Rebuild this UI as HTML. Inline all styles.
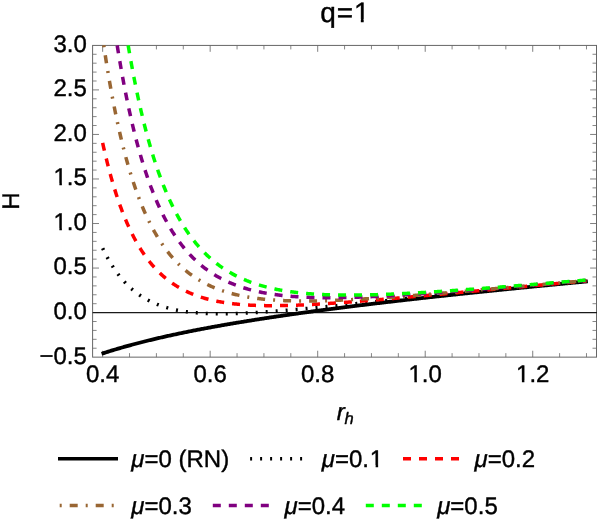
<!DOCTYPE html>
<html><head><meta charset="utf-8"><title>q=1</title>
<style>
html,body{margin:0;padding:0;background:#fff;}
body{width:597px;height:520px;overflow:hidden;font-family:"Liberation Sans",sans-serif;}
svg{display:block;}
</style></head><body>
<svg width="597" height="520" viewBox="0 0 597 520" style="will-change:transform">
<rect x="0" y="0" width="597" height="520" fill="#ffffff"/>
<path d="M102.65,357.14 v-6.40 M102.65,45.42 v6.40 M210.17,357.14 v-6.40 M210.17,45.42 v6.40 M317.69,357.14 v-6.40 M317.69,45.42 v6.40 M425.21,357.14 v-6.40 M425.21,45.42 v6.40 M532.73,357.14 v-6.40 M532.73,45.42 v6.40 M92.60,268.06 h6.40 M596.50,268.06 h-6.40 M92.60,223.52 h6.40 M596.50,223.52 h-6.40 M92.60,178.98 h6.40 M596.50,178.98 h-6.40 M92.60,134.44 h6.40 M596.50,134.44 h-6.40 M92.60,89.90 h6.40 M596.50,89.90 h-6.40" stroke="#606060" stroke-width="0.8" fill="none"/>
<path d="M129.53,357.14 v-4.00 M129.53,45.42 v4.00 M156.41,357.14 v-4.00 M156.41,45.42 v4.00 M183.29,357.14 v-4.00 M183.29,45.42 v4.00 M237.05,357.14 v-4.00 M237.05,45.42 v4.00 M263.93,357.14 v-4.00 M263.93,45.42 v4.00 M290.81,357.14 v-4.00 M290.81,45.42 v4.00 M344.57,357.14 v-4.00 M344.57,45.42 v4.00 M371.45,357.14 v-4.00 M371.45,45.42 v4.00 M398.33,357.14 v-4.00 M398.33,45.42 v4.00 M452.09,357.14 v-4.00 M452.09,45.42 v4.00 M478.97,357.14 v-4.00 M478.97,45.42 v4.00 M505.85,357.14 v-4.00 M505.85,45.42 v4.00 M559.61,357.14 v-4.00 M559.61,45.42 v4.00 M586.49,357.14 v-4.00 M586.49,45.42 v4.00 M92.60,348.23 h4.00 M596.50,348.23 h-4.00 M92.60,339.32 h4.00 M596.50,339.32 h-4.00 M92.60,330.42 h4.00 M596.50,330.42 h-4.00 M92.60,321.51 h4.00 M596.50,321.51 h-4.00 M92.60,303.69 h4.00 M596.50,303.69 h-4.00 M92.60,294.78 h4.00 M596.50,294.78 h-4.00 M92.60,285.88 h4.00 M596.50,285.88 h-4.00 M92.60,276.97 h4.00 M596.50,276.97 h-4.00 M92.60,259.15 h4.00 M596.50,259.15 h-4.00 M92.60,250.24 h4.00 M596.50,250.24 h-4.00 M92.60,241.34 h4.00 M596.50,241.34 h-4.00 M92.60,232.43 h4.00 M596.50,232.43 h-4.00 M92.60,214.61 h4.00 M596.50,214.61 h-4.00 M92.60,205.70 h4.00 M596.50,205.70 h-4.00 M92.60,196.80 h4.00 M596.50,196.80 h-4.00 M92.60,187.89 h4.00 M596.50,187.89 h-4.00 M92.60,170.07 h4.00 M596.50,170.07 h-4.00 M92.60,161.16 h4.00 M596.50,161.16 h-4.00 M92.60,152.26 h4.00 M596.50,152.26 h-4.00 M92.60,143.35 h4.00 M596.50,143.35 h-4.00 M92.60,125.53 h4.00 M596.50,125.53 h-4.00 M92.60,116.62 h4.00 M596.50,116.62 h-4.00 M92.60,107.72 h4.00 M596.50,107.72 h-4.00 M92.60,98.81 h4.00 M596.50,98.81 h-4.00 M92.60,80.99 h4.00 M596.50,80.99 h-4.00 M92.60,72.08 h4.00 M596.50,72.08 h-4.00 M92.60,63.18 h4.00 M596.50,63.18 h-4.00 M92.60,54.27 h4.00 M596.50,54.27 h-4.00" stroke="#686868" stroke-width="0.8" fill="none"/>
<rect x="92.60" y="45.42" width="503.90" height="311.72" fill="none" stroke="#666666" stroke-width="1.0"/>
<path d="M92.60,312.60 H597" stroke="#1a1a1a" stroke-width="1.2" fill="none"/>
<g fill="none">
<path d="M101.57,353.78 L102.55,353.46 L103.52,353.14 L104.50,352.83 L105.47,352.51 L106.45,352.20 L107.42,351.89 L108.40,351.58 L109.37,351.28 L110.35,350.97 L111.32,350.67 L112.29,350.37 L113.27,350.08 L114.24,349.78 L115.22,349.49 L116.19,349.20 L117.17,348.91 L118.14,348.62 L119.12,348.33 L120.09,348.05 L121.06,347.77 L122.04,347.49 L123.01,347.21 L123.99,346.93 L124.96,346.65 L125.94,346.38 L126.91,346.11 L127.89,345.84 L128.86,345.57 L129.83,345.30 L130.81,345.04 L131.78,344.77 L132.76,344.51 L133.73,344.25 L134.71,343.99 L135.68,343.73 L136.66,343.48 L137.63,343.22 L138.60,342.97 L139.58,342.72 L140.55,342.47 L141.53,342.22 L142.50,341.97 L143.48,341.73 L144.45,341.48 L145.43,341.24 L146.40,341.00 L147.37,340.75 L148.35,340.52 L149.32,340.28 L150.30,340.04 L151.27,339.80 L152.25,339.57 L153.22,339.34 L154.20,339.10 L155.17,338.87 L156.14,338.64 L157.12,338.42 L158.09,338.19 L159.07,337.96 L160.04,337.74 L161.02,337.51 L161.99,337.29 L162.97,337.07 L163.94,336.85 L164.92,336.63 L165.89,336.41 L166.86,336.19 L167.84,335.98 L168.81,335.76 L169.79,335.55 L170.76,335.33 L171.74,335.12 L172.71,334.91 L173.69,334.70 L174.66,334.49 L175.63,334.28 L176.61,334.07 L177.58,333.87 L178.56,333.66 L179.53,333.46 L180.51,333.25 L181.48,333.05 L182.46,332.85 L183.43,332.65 L184.40,332.45 L185.38,332.25 L186.35,332.05 L187.33,331.85 L188.30,331.66 L189.28,331.46 L190.25,331.26 L191.23,331.07 L192.20,330.88 L193.17,330.68 L194.15,330.49 L195.12,330.30 L196.10,330.11 L197.07,329.92 L198.05,329.73 L199.02,329.55 L200.00,329.36 L200.97,329.17 L201.94,328.99 L202.92,328.80 L203.89,328.62 L204.87,328.43 L205.84,328.25 L206.82,328.07 L207.79,327.89 L208.77,327.71 L209.74,327.53 L210.72,327.35 L211.69,327.17 L212.66,326.99 L213.64,326.81 L214.61,326.64 L215.59,326.46 L216.56,326.28 L217.54,326.11 L218.51,325.94 L219.49,325.76 L220.46,325.59 L221.43,325.42 L222.41,325.24 L223.38,325.07 L224.36,324.90 L225.33,324.73 L226.31,324.56 L227.28,324.40 L228.26,324.23 L229.23,324.06 L230.20,323.89 L231.18,323.73 L232.15,323.56 L233.13,323.40 L234.10,323.23 L235.08,323.07 L236.05,322.90 L237.03,322.74 L238.00,322.58 L238.97,322.42 L239.95,322.25 L240.92,322.09 L241.90,321.93 L242.87,321.77 L243.85,321.61 L244.82,321.45 L245.80,321.30 L246.77,321.14 L247.74,320.98 L248.72,320.82 L249.69,320.67 L250.67,320.51 L251.64,320.35 L252.62,320.20 L253.59,320.05 L254.57,319.89 L255.54,319.74 L256.52,319.58 L257.49,319.43 L258.46,319.28 L259.44,319.13 L260.41,318.98 L261.39,318.82 L262.36,318.67 L263.34,318.52 L264.31,318.37 L265.29,318.22 L266.26,318.08 L267.23,317.93 L268.21,317.78 L269.18,317.63 L270.16,317.48 L271.13,317.34 L272.11,317.19 L273.08,317.05 L274.06,316.90 L275.03,316.75 L276.00,316.61 L276.98,316.47 L277.95,316.32 L278.93,316.18 L279.90,316.03 L280.88,315.89 L281.85,315.75 L282.83,315.61 L283.80,315.47 L284.77,315.32 L285.75,315.18 L286.72,315.04 L287.70,314.90 L288.67,314.76 L289.65,314.62 L290.62,314.48 L291.60,314.34 L292.57,314.21 L293.54,314.07 L294.52,313.93 L295.49,313.79 L296.47,313.65 L297.44,313.52 L298.42,313.38 L299.39,313.24 L300.37,313.11 L301.34,312.97 L302.32,312.84 L303.29,312.70 L304.26,312.57 L305.24,312.43 L306.21,312.30 L307.19,312.17 L308.16,312.03 L309.14,311.90 L310.11,311.77 L311.09,311.63 L312.06,311.50 L313.03,311.37 L314.01,311.24 L314.98,311.11 L315.96,310.98 L316.93,310.85 L317.91,310.72 L318.88,310.59 L319.86,310.46 L320.83,310.33 L321.80,310.20 L322.78,310.07 L323.75,309.94 L324.73,309.81 L325.70,309.68 L326.68,309.55 L327.65,309.43 L328.63,309.30 L329.60,309.17 L330.57,309.04 L331.55,308.92 L332.52,308.79 L333.50,308.67 L334.47,308.54 L335.45,308.41 L336.42,308.29 L337.40,308.16 L338.37,308.04 L339.34,307.91 L340.32,307.79 L341.29,307.67 L342.27,307.54 L343.24,307.42 L344.22,307.30 L345.19,307.17 L346.17,307.05 L347.14,306.93 L348.12,306.80 L349.09,306.68 L350.06,306.56 L351.04,306.44 L352.01,306.32 L352.99,306.20 L353.96,306.07 L354.94,305.95 L355.91,305.83 L356.89,305.71 L357.86,305.59 L358.83,305.47 L359.81,305.35 L360.78,305.23 L361.76,305.11 L362.73,305.00 L363.71,304.88 L364.68,304.76 L365.66,304.64 L366.63,304.52 L367.60,304.40 L368.58,304.29 L369.55,304.17 L370.53,304.05 L371.50,303.93 L372.48,303.82 L373.45,303.70 L374.43,303.58 L375.40,303.47 L376.37,303.35 L377.35,303.23 L378.32,303.12 L379.30,303.00 L380.27,302.89 L381.25,302.77 L382.22,302.66 L383.20,302.54 L384.17,302.43 L385.14,302.31 L386.12,302.20 L387.09,302.08 L388.07,301.97 L389.04,301.86 L390.02,301.74 L390.99,301.63 L391.97,301.52 L392.94,301.40 L393.92,301.29 L394.89,301.18 L395.86,301.07 L396.84,300.95 L397.81,300.84 L398.79,300.73 L399.76,300.62 L400.74,300.51 L401.71,300.39 L402.69,300.28 L403.66,300.17 L404.63,300.06 L405.61,299.95 L406.58,299.84 L407.56,299.73 L408.53,299.62 L409.51,299.51 L410.48,299.40 L411.46,299.29 L412.43,299.18 L413.40,299.07 L414.38,298.96 L415.35,298.85 L416.33,298.74 L417.30,298.63 L418.28,298.52 L419.25,298.41 L420.23,298.31 L421.20,298.20 L422.17,298.09 L423.15,297.98 L424.12,297.87 L425.10,297.77 L426.07,297.66 L427.05,297.55 L428.02,297.44 L429.00,297.34 L429.97,297.23 L430.94,297.12 L431.92,297.02 L432.89,296.91 L433.87,296.80 L434.84,296.70 L435.82,296.59 L436.79,296.48 L437.77,296.38 L438.74,296.27 L439.71,296.17 L440.69,296.06 L441.66,295.96 L442.64,295.85 L443.61,295.75 L444.59,295.64 L445.56,295.54 L446.54,295.43 L447.51,295.33 L448.49,295.22 L449.46,295.12 L450.43,295.01 L451.41,294.91 L452.38,294.81 L453.36,294.70 L454.33,294.60 L455.31,294.49 L456.28,294.39 L457.26,294.29 L458.23,294.18 L459.20,294.08 L460.18,293.98 L461.15,293.88 L462.13,293.77 L463.10,293.67 L464.08,293.57 L465.05,293.47 L466.03,293.36 L467.00,293.26 L467.97,293.16 L468.95,293.06 L469.92,292.96 L470.90,292.85 L471.87,292.75 L472.85,292.65 L473.82,292.55 L474.80,292.45 L475.77,292.35 L476.74,292.25 L477.72,292.15 L478.69,292.05 L479.67,291.95 L480.64,291.84 L481.62,291.74 L482.59,291.64 L483.57,291.54 L484.54,291.44 L485.51,291.34 L486.49,291.24 L487.46,291.14 L488.44,291.04 L489.41,290.94 L490.39,290.85 L491.36,290.75 L492.34,290.65 L493.31,290.55 L494.29,290.45 L495.26,290.35 L496.23,290.25 L497.21,290.15 L498.18,290.05 L499.16,289.96 L500.13,289.86 L501.11,289.76 L502.08,289.66 L503.06,289.56 L504.03,289.46 L505.00,289.37 L505.98,289.27 L506.95,289.17 L507.93,289.07 L508.90,288.98 L509.88,288.88 L510.85,288.78 L511.83,288.68 L512.80,288.59 L513.77,288.49 L514.75,288.39 L515.72,288.29 L516.70,288.20 L517.67,288.10 L518.65,288.00 L519.62,287.91 L520.60,287.81 L521.57,287.72 L522.54,287.62 L523.52,287.52 L524.49,287.43 L525.47,287.33 L526.44,287.24 L527.42,287.14 L528.39,287.04 L529.37,286.95 L530.34,286.85 L531.31,286.76 L532.29,286.66 L533.26,286.57 L534.24,286.47 L535.21,286.38 L536.19,286.28 L537.16,286.19 L538.14,286.09 L539.11,286.00 L540.09,285.90 L541.06,285.81 L542.03,285.71 L543.01,285.62 L543.98,285.52 L544.96,285.43 L545.93,285.33 L546.91,285.24 L547.88,285.15 L548.86,285.05 L549.83,284.96 L550.80,284.86 L551.78,284.77 L552.75,284.68 L553.73,284.58 L554.70,284.49 L555.68,284.40 L556.65,284.30 L557.63,284.21 L558.60,284.12 L559.57,284.02 L560.55,283.93 L561.52,283.84 L562.50,283.74 L563.47,283.65 L564.45,283.56 L565.42,283.47 L566.40,283.37 L567.37,283.28 L568.34,283.19 L569.32,283.10 L570.29,283.00 L571.27,282.91 L572.24,282.82 L573.22,282.73 L574.19,282.64 L575.17,282.54 L576.14,282.45 L577.11,282.36 L578.09,282.27 L579.06,282.18 L580.04,282.08 L581.01,281.99 L581.99,281.90 L582.96,281.81 L583.94,281.72 L584.91,281.63 L585.89,281.54 L586.86,281.44 L587.83,281.35" stroke="#000000" stroke-width="3.8"/>
<path d="M102.65,248.17 L103.62,250.19 L104.59,252.16 L105.56,254.06 L106.53,255.91 L107.50,257.71 L108.47,259.45 L109.44,261.14 L110.41,262.79 L111.38,264.38 L112.35,265.93 L113.32,267.43 L114.29,268.89 L115.26,270.30 L116.22,271.68 L117.19,273.01 L118.16,274.31 L119.13,275.57 L120.10,276.79 L121.07,277.98 L122.04,279.13 L123.01,280.25 L123.98,281.33 L124.95,282.39 L125.92,283.41 L126.89,284.41 L127.86,285.38 L128.83,286.31 L129.80,287.22 L130.77,288.11 L131.74,288.97 L132.71,289.80 L133.68,290.61 L134.65,291.40 L135.62,292.16 L136.59,292.91 L137.56,293.63 L138.53,294.33 L139.50,295.00 L140.47,295.66 L141.43,296.30 L142.40,296.92 L143.37,297.53 L144.34,298.11 L145.31,298.68 L146.28,299.23 L147.25,299.77 L148.22,300.28 L149.19,300.79 L150.16,301.28 L151.13,301.75 L152.10,302.21 L153.07,302.66 L154.04,303.09 L155.01,303.51 L155.98,303.91 L156.95,304.31 L157.92,304.69 L158.89,305.06 L159.86,305.42 L160.83,305.76 L161.80,306.10 L162.77,306.43 L163.74,306.74 L164.71,307.05 L165.68,307.34 L166.64,307.63 L167.61,307.90 L168.58,308.17 L169.55,308.43 L170.52,308.68 L171.49,308.92 L172.46,309.15 L173.43,309.38 L174.40,309.60 L175.37,309.81 L176.34,310.01 L177.31,310.21 L178.28,310.39 L179.25,310.57 L180.22,310.75 L181.19,310.92 L182.16,311.08 L183.13,311.23 L184.10,311.38 L185.07,311.53 L186.04,311.67 L187.01,311.80 L187.98,311.92 L188.95,312.05 L189.92,312.16 L190.89,312.27 L191.85,312.38 L192.82,312.48 L193.79,312.58 L194.76,312.67 L195.73,312.75 L196.70,312.84 L197.67,312.92 L198.64,312.99 L199.61,313.06 L200.58,313.13 L201.55,313.19 L202.52,313.25 L203.49,313.30 L204.46,313.35 L205.43,313.40 L206.40,313.45 L207.37,313.49 L208.34,313.52 L209.31,313.56 L210.28,313.59 L211.25,313.62 L212.22,313.64 L213.19,313.66 L214.16,313.68 L215.13,313.70 L216.10,313.71 L217.07,313.72 L218.03,313.73 L219.00,313.74 L219.97,313.74 L220.94,313.74 L221.91,313.74 L222.88,313.74 L223.85,313.73 L224.82,313.72 L225.79,313.71 L226.76,313.70 L227.73,313.68 L228.70,313.67 L229.67,313.65 L230.64,313.63 L231.61,313.61 L232.58,313.58 L233.55,313.55 L234.52,313.53 L235.49,313.50 L236.46,313.47 L237.43,313.43 L238.40,313.40 L239.37,313.36 L240.34,313.32 L241.31,313.29 L242.28,313.24 L243.24,313.20 L244.21,313.16 L245.18,313.11 L246.15,313.07 L247.12,313.02 L248.09,312.97 L249.06,312.92 L250.03,312.87 L251.00,312.82 L251.97,312.77 L252.94,312.71 L253.91,312.65 L254.88,312.60 L255.85,312.54 L256.82,312.48 L257.79,312.42 L258.76,312.36 L259.73,312.30 L260.70,312.24 L261.67,312.17 L262.64,312.11 L263.61,312.04 L264.58,311.98 L265.55,311.91 L266.52,311.84 L267.49,311.77 L268.45,311.70 L269.42,311.63 L270.39,311.56 L271.36,311.49 L272.33,311.41 L273.30,311.34 L274.27,311.27 L275.24,311.19 L276.21,311.12 L277.18,311.04 L278.15,310.96 L279.12,310.89 L280.09,310.81 L281.06,310.73 L282.03,310.65 L283.00,310.57 L283.97,310.49 L284.94,310.41 L285.91,310.33 L286.88,310.25 L287.85,310.17 L288.82,310.08 L289.79,310.00 L290.76,309.92 L291.73,309.83 L292.70,309.75 L293.66,309.67 L294.63,309.58 L295.60,309.49 L296.57,309.41 L297.54,309.32 L298.51,309.24 L299.48,309.15 L300.45,309.06 L301.42,308.97 L302.39,308.88 L303.36,308.80 L304.33,308.71 L305.30,308.62 L306.27,308.53 L307.24,308.44 L308.21,308.35 L309.18,308.26 L310.15,308.17 L311.12,308.08 L312.09,307.99 L313.06,307.89 L314.03,307.80 L315.00,307.71 L315.97,307.62 L316.94,307.53 L317.91,307.43 L318.88,307.34 L319.84,307.25 L320.81,307.16 L321.78,307.06 L322.75,306.97 L323.72,306.87 L324.69,306.78 L325.66,306.69 L326.63,306.59 L327.60,306.50 L328.57,306.40 L329.54,306.31 L330.51,306.21 L331.48,306.12 L332.45,306.02 L333.42,305.93 L334.39,305.83 L335.36,305.74 L336.33,305.64 L337.30,305.54 L338.27,305.45 L339.24,305.35 L340.21,305.26 L341.18,305.16 L342.15,305.06 L343.12,304.97 L344.09,304.87 L345.05,304.77 L346.02,304.68 L346.99,304.58 L347.96,304.48 L348.93,304.39 L349.90,304.29 L350.87,304.19 L351.84,304.09 L352.81,304.00 L353.78,303.90 L354.75,303.80 L355.72,303.70 L356.69,303.61 L357.66,303.51 L358.63,303.41 L359.60,303.31 L360.57,303.21 L361.54,303.12 L362.51,303.02 L363.48,302.92 L364.45,302.82 L365.42,302.72 L366.39,302.63 L367.36,302.53 L368.33,302.43 L369.30,302.33 L370.26,302.23 L371.23,302.14 L372.20,302.04 L373.17,301.94 L374.14,301.84 L375.11,301.74 L376.08,301.64 L377.05,301.55 L378.02,301.45 L378.99,301.35 L379.96,301.25 L380.93,301.15 L381.90,301.05 L382.87,300.96 L383.84,300.86 L384.81,300.76 L385.78,300.66 L386.75,300.56 L387.72,300.46 L388.69,300.37 L389.66,300.27 L390.63,300.17 L391.60,300.07 L392.57,299.97 L393.54,299.87 L394.51,299.78 L395.48,299.68 L396.44,299.58 L397.41,299.48 L398.38,299.38 L399.35,299.28 L400.32,299.19 L401.29,299.09 L402.26,298.99 L403.23,298.89 L404.20,298.79 L405.17,298.70 L406.14,298.60 L407.11,298.50 L408.08,298.40 L409.05,298.30 L410.02,298.21 L410.99,298.11 L411.96,298.01 L412.93,297.91 L413.90,297.81 L414.87,297.72 L415.84,297.62 L416.81,297.52 L417.78,297.42 L418.75,297.33 L419.72,297.23 L420.69,297.13 L421.65,297.03 L422.62,296.94 L423.59,296.84 L424.56,296.74 L425.53,296.64 L426.50,296.55 L427.47,296.45 L428.44,296.35 L429.41,296.25 L430.38,296.16 L431.35,296.06 L432.32,295.96 L433.29,295.87 L434.26,295.77 L435.23,295.67 L436.20,295.57 L437.17,295.48 L438.14,295.38 L439.11,295.28 L440.08,295.19 L441.05,295.09 L442.02,294.99 L442.99,294.90 L443.96,294.80 L444.93,294.70 L445.90,294.61 L446.86,294.51 L447.83,294.41 L448.80,294.32 L449.77,294.22 L450.74,294.13 L451.71,294.03 L452.68,293.93 L453.65,293.84 L454.62,293.74 L455.59,293.65 L456.56,293.55 L457.53,293.45 L458.50,293.36 L459.47,293.26 L460.44,293.17 L461.41,293.07 L462.38,292.98 L463.35,292.88 L464.32,292.78 L465.29,292.69 L466.26,292.59 L467.23,292.50 L468.20,292.40 L469.17,292.31 L470.14,292.21 L471.11,292.12 L472.07,292.02 L473.04,291.93 L474.01,291.83 L474.98,291.74 L475.95,291.64 L476.92,291.55 L477.89,291.45 L478.86,291.36 L479.83,291.26 L480.80,291.17 L481.77,291.07 L482.74,290.98 L483.71,290.89 L484.68,290.79 L485.65,290.70 L486.62,290.60 L487.59,290.51 L488.56,290.41 L489.53,290.32 L490.50,290.23 L491.47,290.13 L492.44,290.04 L493.41,289.94 L494.38,289.85 L495.35,289.76 L496.32,289.66 L497.29,289.57 L498.25,289.48 L499.22,289.38 L500.19,289.29 L501.16,289.20 L502.13,289.10 L503.10,289.01 L504.07,288.92 L505.04,288.82 L506.01,288.73 L506.98,288.64 L507.95,288.54 L508.92,288.45 L509.89,288.36 L510.86,288.26 L511.83,288.17 L512.80,288.08 L513.77,287.99 L514.74,287.89 L515.71,287.80 L516.68,287.71 L517.65,287.62 L518.62,287.52 L519.59,287.43 L520.56,287.34 L521.53,287.25 L522.50,287.15 L523.46,287.06 L524.43,286.97 L525.40,286.88 L526.37,286.79 L527.34,286.69 L528.31,286.60 L529.28,286.51 L530.25,286.42 L531.22,286.33 L532.19,286.24 L533.16,286.14 L534.13,286.05 L535.10,285.96 L536.07,285.87 L537.04,285.78 L538.01,285.69 L538.98,285.60 L539.95,285.50 L540.92,285.41 L541.89,285.32 L542.86,285.23 L543.83,285.14 L544.80,285.05 L545.77,284.96 L546.74,284.87 L547.71,284.78 L548.67,284.69 L549.64,284.60 L550.61,284.51 L551.58,284.41 L552.55,284.32 L553.52,284.23 L554.49,284.14 L555.46,284.05 L556.43,283.96 L557.40,283.87 L558.37,283.78 L559.34,283.69 L560.31,283.60 L561.28,283.51 L562.25,283.42 L563.22,283.33 L564.19,283.24 L565.16,283.15 L566.13,283.06 L567.10,282.97 L568.07,282.88 L569.04,282.79 L570.01,282.70 L570.98,282.61 L571.95,282.52 L572.92,282.44 L573.88,282.35 L574.85,282.26 L575.82,282.17 L576.79,282.08 L577.76,281.99 L578.73,281.90 L579.70,281.81 L580.67,281.72 L581.64,281.63 L582.61,281.54 L583.58,281.46 L584.55,281.37 L585.52,281.28 L586.49,281.19" stroke="#000000" stroke-width="3.5" stroke-dasharray="2 8"/>
<path d="M102.65,142.91 L103.62,147.27 L104.59,151.52 L105.56,155.64 L106.53,159.65 L107.50,163.55 L108.47,167.34 L109.44,171.03 L110.41,174.62 L111.38,178.10 L112.35,181.50 L113.32,184.80 L114.29,188.01 L115.26,191.13 L116.22,194.17 L117.19,197.13 L118.16,200.01 L119.13,202.81 L120.10,205.54 L121.07,208.19 L122.04,210.77 L123.01,213.29 L123.98,215.74 L124.95,218.12 L125.92,220.44 L126.89,222.70 L127.86,224.90 L128.83,227.05 L129.80,229.14 L130.77,231.17 L131.74,233.15 L132.71,235.08 L133.68,236.96 L134.65,238.79 L135.62,240.58 L136.59,242.32 L137.56,244.01 L138.53,245.66 L139.50,247.27 L140.47,248.84 L141.43,250.36 L142.40,251.85 L143.37,253.30 L144.34,254.72 L145.31,256.09 L146.28,257.44 L147.25,258.75 L148.22,260.02 L149.19,261.27 L150.16,262.48 L151.13,263.66 L152.10,264.82 L153.07,265.94 L154.04,267.03 L155.01,268.10 L155.98,269.14 L156.95,270.16 L157.92,271.15 L158.89,272.11 L159.86,273.05 L160.83,273.97 L161.80,274.87 L162.77,275.74 L163.74,276.59 L164.71,277.42 L165.68,278.23 L166.64,279.01 L167.61,279.78 L168.58,280.53 L169.55,281.26 L170.52,281.98 L171.49,282.67 L172.46,283.35 L173.43,284.01 L174.40,284.65 L175.37,285.28 L176.34,285.89 L177.31,286.49 L178.28,287.07 L179.25,287.63 L180.22,288.19 L181.19,288.72 L182.16,289.25 L183.13,289.76 L184.10,290.26 L185.07,290.74 L186.04,291.22 L187.01,291.68 L187.98,292.13 L188.95,292.56 L189.92,292.99 L190.89,293.41 L191.85,293.81 L192.82,294.21 L193.79,294.59 L194.76,294.96 L195.73,295.33 L196.70,295.68 L197.67,296.03 L198.64,296.36 L199.61,296.69 L200.58,297.01 L201.55,297.32 L202.52,297.62 L203.49,297.91 L204.46,298.20 L205.43,298.47 L206.40,298.74 L207.37,299.01 L208.34,299.26 L209.31,299.51 L210.28,299.75 L211.25,299.98 L212.22,300.21 L213.19,300.43 L214.16,300.65 L215.13,300.85 L216.10,301.06 L217.07,301.25 L218.03,301.44 L219.00,301.63 L219.97,301.81 L220.94,301.98 L221.91,302.15 L222.88,302.31 L223.85,302.47 L224.82,302.62 L225.79,302.77 L226.76,302.91 L227.73,303.05 L228.70,303.18 L229.67,303.31 L230.64,303.44 L231.61,303.56 L232.58,303.67 L233.55,303.79 L234.52,303.89 L235.49,304.00 L236.46,304.10 L237.43,304.19 L238.40,304.29 L239.37,304.37 L240.34,304.46 L241.31,304.54 L242.28,304.62 L243.24,304.69 L244.21,304.77 L245.18,304.83 L246.15,304.90 L247.12,304.96 L248.09,305.02 L249.06,305.08 L250.03,305.13 L251.00,305.18 L251.97,305.23 L252.94,305.27 L253.91,305.32 L254.88,305.35 L255.85,305.39 L256.82,305.43 L257.79,305.46 L258.76,305.49 L259.73,305.51 L260.70,305.54 L261.67,305.56 L262.64,305.58 L263.61,305.60 L264.58,305.62 L265.55,305.63 L266.52,305.64 L267.49,305.65 L268.45,305.66 L269.42,305.67 L270.39,305.67 L271.36,305.67 L272.33,305.67 L273.30,305.67 L274.27,305.67 L275.24,305.66 L276.21,305.66 L277.18,305.65 L278.15,305.64 L279.12,305.63 L280.09,305.61 L281.06,305.60 L282.03,305.58 L283.00,305.56 L283.97,305.54 L284.94,305.52 L285.91,305.50 L286.88,305.48 L287.85,305.45 L288.82,305.43 L289.79,305.40 L290.76,305.37 L291.73,305.34 L292.70,305.31 L293.66,305.28 L294.63,305.25 L295.60,305.21 L296.57,305.18 L297.54,305.14 L298.51,305.10 L299.48,305.06 L300.45,305.02 L301.42,304.98 L302.39,304.94 L303.36,304.90 L304.33,304.86 L305.30,304.81 L306.27,304.77 L307.24,304.72 L308.21,304.67 L309.18,304.62 L310.15,304.57 L311.12,304.52 L312.09,304.47 L313.06,304.42 L314.03,304.37 L315.00,304.32 L315.97,304.26 L316.94,304.21 L317.91,304.15 L318.88,304.10 L319.84,304.04 L320.81,303.98 L321.78,303.92 L322.75,303.87 L323.72,303.81 L324.69,303.75 L325.66,303.69 L326.63,303.62 L327.60,303.56 L328.57,303.50 L329.54,303.44 L330.51,303.37 L331.48,303.31 L332.45,303.24 L333.42,303.18 L334.39,303.11 L335.36,303.05 L336.33,302.98 L337.30,302.91 L338.27,302.84 L339.24,302.78 L340.21,302.71 L341.18,302.64 L342.15,302.57 L343.12,302.50 L344.09,302.43 L345.05,302.36 L346.02,302.29 L346.99,302.21 L347.96,302.14 L348.93,302.07 L349.90,302.00 L350.87,301.92 L351.84,301.85 L352.81,301.77 L353.78,301.70 L354.75,301.63 L355.72,301.55 L356.69,301.47 L357.66,301.40 L358.63,301.32 L359.60,301.25 L360.57,301.17 L361.54,301.09 L362.51,301.02 L363.48,300.94 L364.45,300.86 L365.42,300.78 L366.39,300.70 L367.36,300.62 L368.33,300.55 L369.30,300.47 L370.26,300.39 L371.23,300.31 L372.20,300.23 L373.17,300.15 L374.14,300.07 L375.11,299.98 L376.08,299.90 L377.05,299.82 L378.02,299.74 L378.99,299.66 L379.96,299.58 L380.93,299.50 L381.90,299.41 L382.87,299.33 L383.84,299.25 L384.81,299.17 L385.78,299.08 L386.75,299.00 L387.72,298.92 L388.69,298.83 L389.66,298.75 L390.63,298.67 L391.60,298.58 L392.57,298.50 L393.54,298.41 L394.51,298.33 L395.48,298.24 L396.44,298.16 L397.41,298.08 L398.38,297.99 L399.35,297.91 L400.32,297.82 L401.29,297.73 L402.26,297.65 L403.23,297.56 L404.20,297.48 L405.17,297.39 L406.14,297.31 L407.11,297.22 L408.08,297.13 L409.05,297.05 L410.02,296.96 L410.99,296.88 L411.96,296.79 L412.93,296.70 L413.90,296.62 L414.87,296.53 L415.84,296.44 L416.81,296.35 L417.78,296.27 L418.75,296.18 L419.72,296.09 L420.69,296.01 L421.65,295.92 L422.62,295.83 L423.59,295.74 L424.56,295.66 L425.53,295.57 L426.50,295.48 L427.47,295.39 L428.44,295.31 L429.41,295.22 L430.38,295.13 L431.35,295.04 L432.32,294.95 L433.29,294.86 L434.26,294.78 L435.23,294.69 L436.20,294.60 L437.17,294.51 L438.14,294.42 L439.11,294.34 L440.08,294.25 L441.05,294.16 L442.02,294.07 L442.99,293.98 L443.96,293.89 L444.93,293.80 L445.90,293.72 L446.86,293.63 L447.83,293.54 L448.80,293.45 L449.77,293.36 L450.74,293.27 L451.71,293.18 L452.68,293.09 L453.65,293.00 L454.62,292.92 L455.59,292.83 L456.56,292.74 L457.53,292.65 L458.50,292.56 L459.47,292.47 L460.44,292.38 L461.41,292.29 L462.38,292.20 L463.35,292.11 L464.32,292.03 L465.29,291.94 L466.26,291.85 L467.23,291.76 L468.20,291.67 L469.17,291.58 L470.14,291.49 L471.11,291.40 L472.07,291.31 L473.04,291.22 L474.01,291.13 L474.98,291.05 L475.95,290.96 L476.92,290.87 L477.89,290.78 L478.86,290.69 L479.83,290.60 L480.80,290.51 L481.77,290.42 L482.74,290.33 L483.71,290.24 L484.68,290.15 L485.65,290.06 L486.62,289.98 L487.59,289.89 L488.56,289.80 L489.53,289.71 L490.50,289.62 L491.47,289.53 L492.44,289.44 L493.41,289.35 L494.38,289.26 L495.35,289.17 L496.32,289.08 L497.29,289.00 L498.25,288.91 L499.22,288.82 L500.19,288.73 L501.16,288.64 L502.13,288.55 L503.10,288.46 L504.07,288.37 L505.04,288.28 L506.01,288.19 L506.98,288.11 L507.95,288.02 L508.92,287.93 L509.89,287.84 L510.86,287.75 L511.83,287.66 L512.80,287.57 L513.77,287.48 L514.74,287.39 L515.71,287.31 L516.68,287.22 L517.65,287.13 L518.62,287.04 L519.59,286.95 L520.56,286.86 L521.53,286.77 L522.50,286.69 L523.46,286.60 L524.43,286.51 L525.40,286.42 L526.37,286.33 L527.34,286.24 L528.31,286.15 L529.28,286.07 L530.25,285.98 L531.22,285.89 L532.19,285.80 L533.16,285.71 L534.13,285.62 L535.10,285.54 L536.07,285.45 L537.04,285.36 L538.01,285.27 L538.98,285.18 L539.95,285.10 L540.92,285.01 L541.89,284.92 L542.86,284.83 L543.83,284.74 L544.80,284.65 L545.77,284.57 L546.74,284.48 L547.71,284.39 L548.67,284.30 L549.64,284.22 L550.61,284.13 L551.58,284.04 L552.55,283.95 L553.52,283.86 L554.49,283.78 L555.46,283.69 L556.43,283.60 L557.40,283.51 L558.37,283.43 L559.34,283.34 L560.31,283.25 L561.28,283.16 L562.25,283.08 L563.22,282.99 L564.19,282.90 L565.16,282.81 L566.13,282.73 L567.10,282.64 L568.07,282.55 L569.04,282.46 L570.01,282.38 L570.98,282.29 L571.95,282.20 L572.92,282.12 L573.88,282.03 L574.85,281.94 L575.82,281.85 L576.79,281.77 L577.76,281.68 L578.73,281.59 L579.70,281.51 L580.67,281.42 L581.64,281.33 L582.61,281.25 L583.58,281.16 L584.55,281.07 L585.52,280.99 L586.49,280.90" stroke="#ff0000" stroke-width="3.5" stroke-dasharray="8 8"/>
<path d="M103.77,45.36 L104.73,51.84 L105.70,58.14 L106.67,64.28 L107.64,70.24 L108.60,76.05 L109.57,81.69 L110.54,87.19 L111.51,92.54 L112.47,97.75 L113.44,102.81 L114.41,107.75 L115.38,112.55 L116.34,117.23 L117.31,121.79 L118.28,126.22 L119.25,130.54 L120.21,134.75 L121.18,138.85 L122.15,142.85 L123.12,146.74 L124.08,150.53 L125.05,154.22 L126.02,157.83 L126.98,161.33 L127.95,164.75 L128.92,168.09 L129.89,171.34 L130.85,174.51 L131.82,177.60 L132.79,180.61 L133.76,183.54 L134.72,186.41 L135.69,189.20 L136.66,191.92 L137.63,194.58 L138.59,197.17 L139.56,199.70 L140.53,202.17 L141.50,204.57 L142.46,206.92 L143.43,209.21 L144.40,211.44 L145.36,213.62 L146.33,215.75 L147.30,217.83 L148.27,219.85 L149.23,221.83 L150.20,223.76 L151.17,225.65 L152.14,227.49 L153.10,229.28 L154.07,231.04 L155.04,232.75 L156.01,234.42 L156.97,236.05 L157.94,237.65 L158.91,239.20 L159.88,240.72 L160.84,242.20 L161.81,243.65 L162.78,245.07 L163.74,246.45 L164.71,247.80 L165.68,249.12 L166.65,250.40 L167.61,251.66 L168.58,252.89 L169.55,254.09 L170.52,255.26 L171.48,256.41 L172.45,257.53 L173.42,258.62 L174.39,259.69 L175.35,260.73 L176.32,261.75 L177.29,262.74 L178.26,263.72 L179.22,264.67 L180.19,265.59 L181.16,266.50 L182.13,267.39 L183.09,268.25 L184.06,269.10 L185.03,269.92 L185.99,270.73 L186.96,271.52 L187.93,272.29 L188.90,273.05 L189.86,273.78 L190.83,274.50 L191.80,275.20 L192.77,275.89 L193.73,276.56 L194.70,277.22 L195.67,277.86 L196.64,278.48 L197.60,279.09 L198.57,279.69 L199.54,280.27 L200.51,280.84 L201.47,281.40 L202.44,281.95 L203.41,282.48 L204.37,283.00 L205.34,283.50 L206.31,284.00 L207.28,284.48 L208.24,284.95 L209.21,285.42 L210.18,285.87 L211.15,286.31 L212.11,286.74 L213.08,287.16 L214.05,287.57 L215.02,287.97 L215.98,288.36 L216.95,288.74 L217.92,289.11 L218.89,289.47 L219.85,289.83 L220.82,290.17 L221.79,290.51 L222.76,290.84 L223.72,291.16 L224.69,291.48 L225.66,291.78 L226.62,292.08 L227.59,292.37 L228.56,292.66 L229.53,292.94 L230.49,293.21 L231.46,293.47 L232.43,293.73 L233.40,293.98 L234.36,294.22 L235.33,294.46 L236.30,294.69 L237.27,294.92 L238.23,295.14 L239.20,295.35 L240.17,295.56 L241.14,295.76 L242.10,295.96 L243.07,296.15 L244.04,296.34 L245.00,296.52 L245.97,296.70 L246.94,296.87 L247.91,297.04 L248.87,297.20 L249.84,297.36 L250.81,297.51 L251.78,297.66 L252.74,297.81 L253.71,297.95 L254.68,298.08 L255.65,298.22 L256.61,298.34 L257.58,298.47 L258.55,298.59 L259.52,298.71 L260.48,298.82 L261.45,298.93 L262.42,299.03 L263.39,299.14 L264.35,299.24 L265.32,299.33 L266.29,299.42 L267.25,299.51 L268.22,299.60 L269.19,299.68 L270.16,299.76 L271.12,299.84 L272.09,299.91 L273.06,299.98 L274.03,300.05 L274.99,300.12 L275.96,300.18 L276.93,300.24 L277.90,300.29 L278.86,300.35 L279.83,300.40 L280.80,300.45 L281.77,300.50 L282.73,300.54 L283.70,300.59 L284.67,300.63 L285.63,300.66 L286.60,300.70 L287.57,300.73 L288.54,300.76 L289.50,300.79 L290.47,300.82 L291.44,300.85 L292.41,300.87 L293.37,300.89 L294.34,300.91 L295.31,300.93 L296.28,300.94 L297.24,300.96 L298.21,300.97 L299.18,300.98 L300.15,300.99 L301.11,300.99 L302.08,301.00 L303.05,301.00 L304.02,301.00 L304.98,301.00 L305.95,301.00 L306.92,301.00 L307.88,301.00 L308.85,300.99 L309.82,300.98 L310.79,300.98 L311.75,300.97 L312.72,300.95 L313.69,300.94 L314.66,300.93 L315.62,300.91 L316.59,300.90 L317.56,300.88 L318.53,300.86 L319.49,300.84 L320.46,300.82 L321.43,300.80 L322.40,300.77 L323.36,300.75 L324.33,300.72 L325.30,300.70 L326.26,300.67 L327.23,300.64 L328.20,300.61 L329.17,300.58 L330.13,300.55 L331.10,300.51 L332.07,300.48 L333.04,300.44 L334.00,300.41 L334.97,300.37 L335.94,300.33 L336.91,300.30 L337.87,300.26 L338.84,300.22 L339.81,300.18 L340.78,300.13 L341.74,300.09 L342.71,300.05 L343.68,300.00 L344.65,299.96 L345.61,299.91 L346.58,299.87 L347.55,299.82 L348.51,299.77 L349.48,299.72 L350.45,299.68 L351.42,299.63 L352.38,299.58 L353.35,299.52 L354.32,299.47 L355.29,299.42 L356.25,299.37 L357.22,299.31 L358.19,299.26 L359.16,299.21 L360.12,299.15 L361.09,299.09 L362.06,299.04 L363.03,298.98 L363.99,298.92 L364.96,298.87 L365.93,298.81 L366.89,298.75 L367.86,298.69 L368.83,298.63 L369.80,298.57 L370.76,298.51 L371.73,298.45 L372.70,298.38 L373.67,298.32 L374.63,298.26 L375.60,298.20 L376.57,298.13 L377.54,298.07 L378.50,298.00 L379.47,297.94 L380.44,297.87 L381.41,297.81 L382.37,297.74 L383.34,297.67 L384.31,297.61 L385.27,297.54 L386.24,297.47 L387.21,297.41 L388.18,297.34 L389.14,297.27 L390.11,297.20 L391.08,297.13 L392.05,297.06 L393.01,296.99 L393.98,296.92 L394.95,296.85 L395.92,296.78 L396.88,296.71 L397.85,296.64 L398.82,296.57 L399.79,296.49 L400.75,296.42 L401.72,296.35 L402.69,296.28 L403.66,296.20 L404.62,296.13 L405.59,296.06 L406.56,295.98 L407.52,295.91 L408.49,295.84 L409.46,295.76 L410.43,295.69 L411.39,295.61 L412.36,295.54 L413.33,295.46 L414.30,295.39 L415.26,295.31 L416.23,295.23 L417.20,295.16 L418.17,295.08 L419.13,295.00 L420.10,294.93 L421.07,294.85 L422.04,294.77 L423.00,294.70 L423.97,294.62 L424.94,294.54 L425.90,294.46 L426.87,294.39 L427.84,294.31 L428.81,294.23 L429.77,294.15 L430.74,294.07 L431.71,293.99 L432.68,293.91 L433.64,293.84 L434.61,293.76 L435.58,293.68 L436.55,293.60 L437.51,293.52 L438.48,293.44 L439.45,293.36 L440.42,293.28 L441.38,293.20 L442.35,293.12 L443.32,293.04 L444.29,292.96 L445.25,292.88 L446.22,292.80 L447.19,292.71 L448.15,292.63 L449.12,292.55 L450.09,292.47 L451.06,292.39 L452.02,292.31 L452.99,292.23 L453.96,292.15 L454.93,292.06 L455.89,291.98 L456.86,291.90 L457.83,291.82 L458.80,291.74 L459.76,291.65 L460.73,291.57 L461.70,291.49 L462.67,291.41 L463.63,291.33 L464.60,291.24 L465.57,291.16 L466.53,291.08 L467.50,290.99 L468.47,290.91 L469.44,290.83 L470.40,290.75 L471.37,290.66 L472.34,290.58 L473.31,290.50 L474.27,290.41 L475.24,290.33 L476.21,290.25 L477.18,290.16 L478.14,290.08 L479.11,290.00 L480.08,289.91 L481.05,289.83 L482.01,289.75 L482.98,289.66 L483.95,289.58 L484.92,289.50 L485.88,289.41 L486.85,289.33 L487.82,289.24 L488.78,289.16 L489.75,289.08 L490.72,288.99 L491.69,288.91 L492.65,288.82 L493.62,288.74 L494.59,288.66 L495.56,288.57 L496.52,288.49 L497.49,288.40 L498.46,288.32 L499.43,288.23 L500.39,288.15 L501.36,288.07 L502.33,287.98 L503.30,287.90 L504.26,287.81 L505.23,287.73 L506.20,287.64 L507.16,287.56 L508.13,287.47 L509.10,287.39 L510.07,287.30 L511.03,287.22 L512.00,287.14 L512.97,287.05 L513.94,286.97 L514.90,286.88 L515.87,286.80 L516.84,286.71 L517.81,286.63 L518.77,286.54 L519.74,286.46 L520.71,286.37 L521.68,286.29 L522.64,286.20 L523.61,286.12 L524.58,286.03 L525.55,285.95 L526.51,285.86 L527.48,285.78 L528.45,285.69 L529.41,285.61 L530.38,285.52 L531.35,285.44 L532.32,285.36 L533.28,285.27 L534.25,285.19 L535.22,285.10 L536.19,285.02 L537.15,284.93 L538.12,284.85 L539.09,284.76 L540.06,284.68 L541.02,284.59 L541.99,284.51 L542.96,284.42 L543.93,284.34 L544.89,284.25 L545.86,284.17 L546.83,284.08 L547.79,284.00 L548.76,283.91 L549.73,283.83 L550.70,283.74 L551.66,283.66 L552.63,283.57 L553.60,283.49 L554.57,283.40 L555.53,283.32 L556.50,283.23 L557.47,283.15 L558.44,283.06 L559.40,282.98 L560.37,282.89 L561.34,282.81 L562.31,282.72 L563.27,282.64 L564.24,282.55 L565.21,282.47 L566.18,282.39 L567.14,282.30 L568.11,282.22 L569.08,282.13 L570.04,282.05 L571.01,281.96 L571.98,281.88 L572.95,281.79 L573.91,281.71 L574.88,281.62 L575.85,281.54 L576.82,281.45 L577.78,281.37 L578.75,281.28 L579.72,281.20 L580.69,281.12 L581.65,281.03 L582.62,280.95 L583.59,280.86 L584.56,280.78 L585.52,280.69 L586.49,280.61" stroke="#996633" stroke-width="3.5" stroke-dasharray="2 8 8 8"/>
<path d="M117.19,45.36 L118.13,51.22 L119.08,56.94 L120.02,62.51 L120.96,67.95 L121.90,73.25 L122.84,78.42 L123.78,83.46 L124.72,88.38 L125.66,93.18 L126.60,97.86 L127.54,102.43 L128.48,106.89 L129.42,111.24 L130.36,115.48 L131.30,119.62 L132.24,123.67 L133.18,127.62 L134.12,131.47 L135.06,135.23 L136.00,138.90 L136.94,142.49 L137.88,145.99 L138.83,149.41 L139.77,152.75 L140.71,156.01 L141.65,159.19 L142.59,162.30 L143.53,165.34 L144.47,168.31 L145.41,171.21 L146.35,174.05 L147.29,176.82 L148.23,179.52 L149.17,182.17 L150.11,184.75 L151.05,187.28 L151.99,189.74 L152.93,192.16 L153.87,194.51 L154.81,196.82 L155.75,199.07 L156.69,201.27 L157.63,203.43 L158.57,205.53 L159.52,207.59 L160.46,209.61 L161.40,211.57 L162.34,213.50 L163.28,215.38 L164.22,217.22 L165.16,219.02 L166.10,220.78 L167.04,222.51 L167.98,224.19 L168.92,225.84 L169.86,227.45 L170.80,229.03 L171.74,230.57 L172.68,232.08 L173.62,233.56 L174.56,235.00 L175.50,236.41 L176.44,237.80 L177.38,239.15 L178.32,240.47 L179.27,241.77 L180.21,243.04 L181.15,244.28 L182.09,245.49 L183.03,246.68 L183.97,247.85 L184.91,248.98 L185.85,250.10 L186.79,251.19 L187.73,252.26 L188.67,253.30 L189.61,254.32 L190.55,255.32 L191.49,256.30 L192.43,257.26 L193.37,258.20 L194.31,259.12 L195.25,260.02 L196.19,260.90 L197.13,261.76 L198.07,262.61 L199.02,263.43 L199.96,264.24 L200.90,265.03 L201.84,265.81 L202.78,266.57 L203.72,267.31 L204.66,268.04 L205.60,268.75 L206.54,269.45 L207.48,270.13 L208.42,270.80 L209.36,271.45 L210.30,272.09 L211.24,272.72 L212.18,273.33 L213.12,273.93 L214.06,274.52 L215.00,275.09 L215.94,275.66 L216.88,276.21 L217.82,276.75 L218.77,277.28 L219.71,277.79 L220.65,278.30 L221.59,278.79 L222.53,279.28 L223.47,279.75 L224.41,280.22 L225.35,280.67 L226.29,281.12 L227.23,281.55 L228.17,281.98 L229.11,282.40 L230.05,282.80 L230.99,283.20 L231.93,283.59 L232.87,283.98 L233.81,284.35 L234.75,284.72 L235.69,285.07 L236.63,285.42 L237.57,285.77 L238.52,286.10 L239.46,286.43 L240.40,286.75 L241.34,287.06 L242.28,287.37 L243.22,287.67 L244.16,287.96 L245.10,288.25 L246.04,288.53 L246.98,288.80 L247.92,289.07 L248.86,289.33 L249.80,289.59 L250.74,289.84 L251.68,290.08 L252.62,290.32 L253.56,290.55 L254.50,290.78 L255.44,291.00 L256.38,291.22 L257.32,291.43 L258.27,291.64 L259.21,291.84 L260.15,292.03 L261.09,292.23 L262.03,292.41 L262.97,292.60 L263.91,292.78 L264.85,292.95 L265.79,293.12 L266.73,293.28 L267.67,293.45 L268.61,293.60 L269.55,293.76 L270.49,293.91 L271.43,294.05 L272.37,294.19 L273.31,294.33 L274.25,294.46 L275.19,294.59 L276.13,294.72 L277.07,294.84 L278.02,294.96 L278.96,295.08 L279.90,295.19 L280.84,295.31 L281.78,295.41 L282.72,295.52 L283.66,295.62 L284.60,295.71 L285.54,295.81 L286.48,295.90 L287.42,295.99 L288.36,296.08 L289.30,296.16 L290.24,296.24 L291.18,296.32 L292.12,296.39 L293.06,296.47 L294.00,296.54 L294.94,296.60 L295.88,296.67 L296.82,296.73 L297.76,296.79 L298.71,296.85 L299.65,296.91 L300.59,296.96 L301.53,297.01 L302.47,297.06 L303.41,297.11 L304.35,297.15 L305.29,297.20 L306.23,297.24 L307.17,297.28 L308.11,297.31 L309.05,297.35 L309.99,297.38 L310.93,297.41 L311.87,297.44 L312.81,297.47 L313.75,297.50 L314.69,297.52 L315.63,297.54 L316.57,297.56 L317.51,297.58 L318.46,297.60 L319.40,297.62 L320.34,297.63 L321.28,297.64 L322.22,297.66 L323.16,297.67 L324.10,297.67 L325.04,297.68 L325.98,297.69 L326.92,297.69 L327.86,297.69 L328.80,297.69 L329.74,297.69 L330.68,297.69 L331.62,297.69 L332.56,297.69 L333.50,297.68 L334.44,297.67 L335.38,297.67 L336.32,297.66 L337.26,297.65 L338.21,297.64 L339.15,297.63 L340.09,297.61 L341.03,297.60 L341.97,297.58 L342.91,297.57 L343.85,297.55 L344.79,297.53 L345.73,297.51 L346.67,297.49 L347.61,297.47 L348.55,297.45 L349.49,297.42 L350.43,297.40 L351.37,297.37 L352.31,297.35 L353.25,297.32 L354.19,297.29 L355.13,297.26 L356.07,297.23 L357.01,297.20 L357.96,297.17 L358.90,297.14 L359.84,297.11 L360.78,297.07 L361.72,297.04 L362.66,297.00 L363.60,296.97 L364.54,296.93 L365.48,296.89 L366.42,296.85 L367.36,296.81 L368.30,296.78 L369.24,296.73 L370.18,296.69 L371.12,296.65 L372.06,296.61 L373.00,296.57 L373.94,296.52 L374.88,296.48 L375.82,296.44 L376.76,296.39 L377.71,296.34 L378.65,296.30 L379.59,296.25 L380.53,296.20 L381.47,296.16 L382.41,296.11 L383.35,296.06 L384.29,296.01 L385.23,295.96 L386.17,295.91 L387.11,295.86 L388.05,295.80 L388.99,295.75 L389.93,295.70 L390.87,295.65 L391.81,295.59 L392.75,295.54 L393.69,295.48 L394.63,295.43 L395.57,295.37 L396.51,295.32 L397.46,295.26 L398.40,295.21 L399.34,295.15 L400.28,295.09 L401.22,295.03 L402.16,294.97 L403.10,294.92 L404.04,294.86 L404.98,294.80 L405.92,294.74 L406.86,294.68 L407.80,294.62 L408.74,294.56 L409.68,294.50 L410.62,294.43 L411.56,294.37 L412.50,294.31 L413.44,294.25 L414.38,294.19 L415.32,294.12 L416.26,294.06 L417.20,294.00 L418.15,293.93 L419.09,293.87 L420.03,293.80 L420.97,293.74 L421.91,293.67 L422.85,293.61 L423.79,293.54 L424.73,293.48 L425.67,293.41 L426.61,293.34 L427.55,293.28 L428.49,293.21 L429.43,293.14 L430.37,293.07 L431.31,293.01 L432.25,292.94 L433.19,292.87 L434.13,292.80 L435.07,292.73 L436.01,292.67 L436.95,292.60 L437.90,292.53 L438.84,292.46 L439.78,292.39 L440.72,292.32 L441.66,292.25 L442.60,292.18 L443.54,292.11 L444.48,292.04 L445.42,291.97 L446.36,291.90 L447.30,291.82 L448.24,291.75 L449.18,291.68 L450.12,291.61 L451.06,291.54 L452.00,291.47 L452.94,291.39 L453.88,291.32 L454.82,291.25 L455.76,291.18 L456.70,291.10 L457.65,291.03 L458.59,290.96 L459.53,290.88 L460.47,290.81 L461.41,290.74 L462.35,290.66 L463.29,290.59 L464.23,290.52 L465.17,290.44 L466.11,290.37 L467.05,290.29 L467.99,290.22 L468.93,290.14 L469.87,290.07 L470.81,289.99 L471.75,289.92 L472.69,289.84 L473.63,289.77 L474.57,289.69 L475.51,289.62 L476.45,289.54 L477.40,289.47 L478.34,289.39 L479.28,289.32 L480.22,289.24 L481.16,289.16 L482.10,289.09 L483.04,289.01 L483.98,288.93 L484.92,288.86 L485.86,288.78 L486.80,288.71 L487.74,288.63 L488.68,288.55 L489.62,288.48 L490.56,288.40 L491.50,288.32 L492.44,288.24 L493.38,288.17 L494.32,288.09 L495.26,288.01 L496.20,287.93 L497.15,287.86 L498.09,287.78 L499.03,287.70 L499.97,287.62 L500.91,287.55 L501.85,287.47 L502.79,287.39 L503.73,287.31 L504.67,287.24 L505.61,287.16 L506.55,287.08 L507.49,287.00 L508.43,286.92 L509.37,286.84 L510.31,286.77 L511.25,286.69 L512.19,286.61 L513.13,286.53 L514.07,286.45 L515.01,286.37 L515.95,286.30 L516.90,286.22 L517.84,286.14 L518.78,286.06 L519.72,285.98 L520.66,285.90 L521.60,285.82 L522.54,285.74 L523.48,285.66 L524.42,285.59 L525.36,285.51 L526.30,285.43 L527.24,285.35 L528.18,285.27 L529.12,285.19 L530.06,285.11 L531.00,285.03 L531.94,284.95 L532.88,284.87 L533.82,284.79 L534.76,284.71 L535.70,284.63 L536.64,284.56 L537.59,284.48 L538.53,284.40 L539.47,284.32 L540.41,284.24 L541.35,284.16 L542.29,284.08 L543.23,284.00 L544.17,283.92 L545.11,283.84 L546.05,283.76 L546.99,283.68 L547.93,283.60 L548.87,283.52 L549.81,283.44 L550.75,283.36 L551.69,283.28 L552.63,283.20 L553.57,283.12 L554.51,283.04 L555.45,282.96 L556.39,282.88 L557.34,282.80 L558.28,282.72 L559.22,282.64 L560.16,282.56 L561.10,282.48 L562.04,282.40 L562.98,282.32 L563.92,282.24 L564.86,282.16 L565.80,282.08 L566.74,282.00 L567.68,281.92 L568.62,281.84 L569.56,281.76 L570.50,281.68 L571.44,281.60 L572.38,281.52 L573.32,281.44 L574.26,281.36 L575.20,281.28 L576.14,281.20 L577.09,281.12 L578.03,281.04 L578.97,280.96 L579.91,280.88 L580.85,280.80 L581.79,280.72 L582.73,280.64 L583.67,280.56 L584.61,280.48 L585.55,280.40 L586.49,280.32" stroke="#800080" stroke-width="3.5" stroke-dasharray="8 8"/>
<path d="M128.17,45.36 L129.09,50.78 L130.01,56.07 L130.93,61.23 L131.85,66.28 L132.76,71.21 L133.68,76.03 L134.60,80.74 L135.52,85.33 L136.44,89.83 L137.36,94.22 L138.27,98.51 L139.19,102.70 L140.11,106.80 L141.03,110.81 L141.95,114.72 L142.87,118.55 L143.79,122.30 L144.70,125.96 L145.62,129.53 L146.54,133.03 L147.46,136.46 L148.38,139.80 L149.30,143.08 L150.22,146.28 L151.13,149.41 L152.05,152.47 L152.97,155.47 L153.89,158.40 L154.81,161.27 L155.73,164.07 L156.64,166.82 L157.56,169.50 L158.48,172.13 L159.40,174.71 L160.32,177.22 L161.24,179.69 L162.16,182.10 L163.07,184.46 L163.99,186.77 L164.91,189.03 L165.83,191.25 L166.75,193.41 L167.67,195.54 L168.58,197.61 L169.50,199.65 L170.42,201.64 L171.34,203.59 L172.26,205.50 L173.18,207.37 L174.10,209.20 L175.01,211.00 L175.93,212.76 L176.85,214.48 L177.77,216.16 L178.69,217.81 L179.61,219.43 L180.52,221.02 L181.44,222.57 L182.36,224.09 L183.28,225.58 L184.20,227.04 L185.12,228.47 L186.04,229.87 L186.95,231.24 L187.87,232.58 L188.79,233.90 L189.71,235.19 L190.63,236.46 L191.55,237.70 L192.46,238.91 L193.38,240.10 L194.30,241.27 L195.22,242.42 L196.14,243.54 L197.06,244.63 L197.98,245.71 L198.89,246.77 L199.81,247.80 L200.73,248.81 L201.65,249.81 L202.57,250.78 L203.49,251.74 L204.41,252.67 L205.32,253.59 L206.24,254.49 L207.16,255.37 L208.08,256.23 L209.00,257.08 L209.92,257.91 L210.83,258.73 L211.75,259.52 L212.67,260.31 L213.59,261.07 L214.51,261.83 L215.43,262.56 L216.35,263.29 L217.26,263.99 L218.18,264.69 L219.10,265.37 L220.02,266.04 L220.94,266.69 L221.86,267.33 L222.77,267.96 L223.69,268.58 L224.61,269.18 L225.53,269.77 L226.45,270.36 L227.37,270.93 L228.29,271.48 L229.20,272.03 L230.12,272.57 L231.04,273.09 L231.96,273.61 L232.88,274.11 L233.80,274.61 L234.71,275.10 L235.63,275.57 L236.55,276.04 L237.47,276.50 L238.39,276.94 L239.31,277.38 L240.23,277.81 L241.14,278.24 L242.06,278.65 L242.98,279.05 L243.90,279.45 L244.82,279.84 L245.74,280.22 L246.65,280.60 L247.57,280.96 L248.49,281.32 L249.41,281.67 L250.33,282.02 L251.25,282.36 L252.17,282.69 L253.08,283.01 L254.00,283.33 L254.92,283.64 L255.84,283.94 L256.76,284.24 L257.68,284.53 L258.59,284.82 L259.51,285.10 L260.43,285.37 L261.35,285.64 L262.27,285.91 L263.19,286.16 L264.11,286.41 L265.02,286.66 L265.94,286.90 L266.86,287.14 L267.78,287.37 L268.70,287.60 L269.62,287.82 L270.54,288.03 L271.45,288.25 L272.37,288.45 L273.29,288.66 L274.21,288.85 L275.13,289.05 L276.05,289.24 L276.96,289.42 L277.88,289.60 L278.80,289.78 L279.72,289.95 L280.64,290.12 L281.56,290.29 L282.48,290.45 L283.39,290.60 L284.31,290.76 L285.23,290.91 L286.15,291.05 L287.07,291.20 L287.99,291.34 L288.90,291.47 L289.82,291.61 L290.74,291.74 L291.66,291.86 L292.58,291.98 L293.50,292.10 L294.42,292.22 L295.33,292.34 L296.25,292.45 L297.17,292.55 L298.09,292.66 L299.01,292.76 L299.93,292.86 L300.84,292.96 L301.76,293.05 L302.68,293.14 L303.60,293.23 L304.52,293.32 L305.44,293.40 L306.36,293.48 L307.27,293.56 L308.19,293.64 L309.11,293.71 L310.03,293.78 L310.95,293.85 L311.87,293.92 L312.78,293.99 L313.70,294.05 L314.62,294.11 L315.54,294.17 L316.46,294.22 L317.38,294.28 L318.30,294.33 L319.21,294.38 L320.13,294.43 L321.05,294.48 L321.97,294.52 L322.89,294.56 L323.81,294.61 L324.73,294.65 L325.64,294.68 L326.56,294.72 L327.48,294.75 L328.40,294.78 L329.32,294.82 L330.24,294.84 L331.15,294.87 L332.07,294.90 L332.99,294.92 L333.91,294.94 L334.83,294.97 L335.75,294.99 L336.67,295.00 L337.58,295.02 L338.50,295.04 L339.42,295.05 L340.34,295.06 L341.26,295.07 L342.18,295.08 L343.09,295.09 L344.01,295.10 L344.93,295.11 L345.85,295.11 L346.77,295.12 L347.69,295.12 L348.61,295.12 L349.52,295.12 L350.44,295.12 L351.36,295.12 L352.28,295.11 L353.20,295.11 L354.12,295.10 L355.03,295.10 L355.95,295.09 L356.87,295.08 L357.79,295.07 L358.71,295.06 L359.63,295.05 L360.55,295.03 L361.46,295.02 L362.38,295.01 L363.30,294.99 L364.22,294.97 L365.14,294.96 L366.06,294.94 L366.97,294.92 L367.89,294.90 L368.81,294.88 L369.73,294.86 L370.65,294.83 L371.57,294.81 L372.49,294.79 L373.40,294.76 L374.32,294.73 L375.24,294.71 L376.16,294.68 L377.08,294.65 L378.00,294.62 L378.91,294.59 L379.83,294.56 L380.75,294.53 L381.67,294.50 L382.59,294.47 L383.51,294.44 L384.43,294.40 L385.34,294.37 L386.26,294.33 L387.18,294.30 L388.10,294.26 L389.02,294.22 L389.94,294.19 L390.86,294.15 L391.77,294.11 L392.69,294.07 L393.61,294.03 L394.53,293.99 L395.45,293.95 L396.37,293.91 L397.28,293.86 L398.20,293.82 L399.12,293.78 L400.04,293.74 L400.96,293.69 L401.88,293.65 L402.80,293.60 L403.71,293.56 L404.63,293.51 L405.55,293.46 L406.47,293.42 L407.39,293.37 L408.31,293.32 L409.22,293.27 L410.14,293.22 L411.06,293.17 L411.98,293.12 L412.90,293.07 L413.82,293.02 L414.74,292.97 L415.65,292.92 L416.57,292.87 L417.49,292.82 L418.41,292.76 L419.33,292.71 L420.25,292.66 L421.16,292.60 L422.08,292.55 L423.00,292.50 L423.92,292.44 L424.84,292.39 L425.76,292.33 L426.68,292.28 L427.59,292.22 L428.51,292.16 L429.43,292.11 L430.35,292.05 L431.27,291.99 L432.19,291.93 L433.10,291.88 L434.02,291.82 L434.94,291.76 L435.86,291.70 L436.78,291.64 L437.70,291.58 L438.62,291.52 L439.53,291.46 L440.45,291.40 L441.37,291.34 L442.29,291.28 L443.21,291.22 L444.13,291.16 L445.05,291.10 L445.96,291.03 L446.88,290.97 L447.80,290.91 L448.72,290.85 L449.64,290.78 L450.56,290.72 L451.47,290.66 L452.39,290.59 L453.31,290.53 L454.23,290.47 L455.15,290.40 L456.07,290.34 L456.99,290.27 L457.90,290.21 L458.82,290.14 L459.74,290.08 L460.66,290.01 L461.58,289.95 L462.50,289.88 L463.41,289.81 L464.33,289.75 L465.25,289.68 L466.17,289.62 L467.09,289.55 L468.01,289.48 L468.93,289.41 L469.84,289.35 L470.76,289.28 L471.68,289.21 L472.60,289.14 L473.52,289.08 L474.44,289.01 L475.35,288.94 L476.27,288.87 L477.19,288.80 L478.11,288.74 L479.03,288.67 L479.95,288.60 L480.87,288.53 L481.78,288.46 L482.70,288.39 L483.62,288.32 L484.54,288.25 L485.46,288.18 L486.38,288.11 L487.29,288.04 L488.21,287.97 L489.13,287.90 L490.05,287.83 L490.97,287.76 L491.89,287.69 L492.81,287.62 L493.72,287.55 L494.64,287.48 L495.56,287.41 L496.48,287.33 L497.40,287.26 L498.32,287.19 L499.24,287.12 L500.15,287.05 L501.07,286.98 L501.99,286.90 L502.91,286.83 L503.83,286.76 L504.75,286.69 L505.66,286.62 L506.58,286.54 L507.50,286.47 L508.42,286.40 L509.34,286.33 L510.26,286.25 L511.18,286.18 L512.09,286.11 L513.01,286.04 L513.93,285.96 L514.85,285.89 L515.77,285.82 L516.69,285.74 L517.60,285.67 L518.52,285.60 L519.44,285.52 L520.36,285.45 L521.28,285.38 L522.20,285.30 L523.12,285.23 L524.03,285.15 L524.95,285.08 L525.87,285.01 L526.79,284.93 L527.71,284.86 L528.63,284.78 L529.54,284.71 L530.46,284.64 L531.38,284.56 L532.30,284.49 L533.22,284.41 L534.14,284.34 L535.06,284.26 L535.97,284.19 L536.89,284.11 L537.81,284.04 L538.73,283.97 L539.65,283.89 L540.57,283.82 L541.48,283.74 L542.40,283.67 L543.32,283.59 L544.24,283.52 L545.16,283.44 L546.08,283.37 L547.00,283.29 L547.91,283.22 L548.83,283.14 L549.75,283.06 L550.67,282.99 L551.59,282.91 L552.51,282.84 L553.42,282.76 L554.34,282.69 L555.26,282.61 L556.18,282.54 L557.10,282.46 L558.02,282.39 L558.94,282.31 L559.85,282.23 L560.77,282.16 L561.69,282.08 L562.61,282.01 L563.53,281.93 L564.45,281.86 L565.37,281.78 L566.28,281.70 L567.20,281.63 L568.12,281.55 L569.04,281.48 L569.96,281.40 L570.88,281.32 L571.79,281.25 L572.71,281.17 L573.63,281.10 L574.55,281.02 L575.47,280.94 L576.39,280.87 L577.31,280.79 L578.22,280.71 L579.14,280.64 L580.06,280.56 L580.98,280.49 L581.90,280.41 L582.82,280.33 L583.73,280.26 L584.65,280.18 L585.57,280.10 L586.49,280.03" stroke="#00ff00" stroke-width="3.5" stroke-dasharray="8 8"/>
</g>
<g text-rendering="geometricPrecision" font-family="'Liberation Sans', sans-serif" fill="#000" stroke="#000" stroke-width="0.4" stroke-linejoin="round">
<text x="320.16" y="21.7" font-size="28">q<tspan dx="1.0">=</tspan><tspan dx="0.9">1</tspan></text>
<text x="86.9" y="52.00" font-size="24" text-anchor="end">3.0</text>
<text x="86.9" y="96.00" font-size="24" text-anchor="end">2.5</text>
<text x="86.9" y="141.00" font-size="24" text-anchor="end">2.0</text>
<text x="86.9" y="185.00" font-size="24" text-anchor="end">1.5</text>
<text x="86.9" y="230.00" font-size="24" text-anchor="end">1.0</text>
<text x="86.9" y="274.00" font-size="24" text-anchor="end">0.5</text>
<text x="86.9" y="319.00" font-size="24" text-anchor="end">0.0</text>
<text x="86.9" y="364.00" font-size="24" text-anchor="end">−0.5</text>
<text x="102.65" y="382" font-size="24" text-anchor="middle">0.4</text>
<text x="210.17" y="382" font-size="24" text-anchor="middle">0.6</text>
<text x="317.69" y="382" font-size="24" text-anchor="middle">0.8</text>
<text x="425.21" y="382" font-size="24" text-anchor="middle">1.0</text>
<text x="532.73" y="382" font-size="24" text-anchor="middle">1.2</text>
<text transform="translate(19.4,201.1) rotate(-90)" font-size="24" text-anchor="middle">H</text>
<text x="336.85" y="419.7" font-size="24" font-style="italic">r<tspan font-size="16.5" dx="-0.3" dy="4.2">h</tspan></text>
<path d="M58.00,458.80 h60" stroke="#000" stroke-width="3.5" fill="none"/>
<text x="131.30" y="466.60" font-size="24"><tspan font-style="italic">μ</tspan>=0 (RN)</text>
<path d="M250.10,458.80 h60" stroke="#000" stroke-width="3.5" fill="none" stroke-dasharray="2 8"/>
<text x="321.80" y="466.60" font-size="24"><tspan font-style="italic">μ</tspan>=0.<tspan dx="0.8">1</tspan></text>
<path d="M403.00,458.80 h60" stroke="#ff0000" stroke-width="3.5" fill="none" stroke-dasharray="8 8"/>
<text x="474.60" y="466.60" font-size="24"><tspan font-style="italic">μ</tspan>=0.2</text>
<path d="M59.70,505.60 h60" stroke="#996633" stroke-width="3.5" fill="none" stroke-dasharray="2 8 8 8"/>
<text x="131.30" y="513.60" font-size="24"><tspan font-style="italic">μ</tspan>=0.3</text>
<path d="M212.80,505.60 h60" stroke="#800080" stroke-width="3.5" fill="none" stroke-dasharray="8 8"/>
<text x="284.60" y="513.60" font-size="24"><tspan font-style="italic">μ</tspan>=0.4</text>
<path d="M365.80,505.60 h60" stroke="#00ff00" stroke-width="3.5" fill="none" stroke-dasharray="8 8"/>
<text x="437.20" y="513.60" font-size="24"><tspan font-style="italic">μ</tspan>=0.5</text>
</g>
<rect x="354.81" y="19.00" width="6.01" height="4.00" fill="#fff"/>
<rect x="363.70" y="19.00" width="5.79" height="4.00" fill="#fff"/>
<rect x="54.06" y="183.00" width="5.31" height="3.00" fill="#fff"/>
<rect x="61.89" y="183.00" width="5.12" height="3.00" fill="#fff"/>
<rect x="54.06" y="228.00" width="5.31" height="3.00" fill="#fff"/>
<rect x="61.89" y="228.00" width="5.12" height="3.00" fill="#fff"/>
<rect x="409.06" y="380.00" width="5.31" height="3.00" fill="#fff"/>
<rect x="416.88" y="380.00" width="5.12" height="3.00" fill="#fff"/>
<rect x="516.58" y="380.00" width="5.31" height="3.00" fill="#fff"/>
<rect x="524.40" y="380.00" width="5.12" height="3.00" fill="#fff"/>
<rect x="370.31" y="465.00" width="5.31" height="3.00" fill="#fff"/>
<rect x="378.14" y="465.00" width="5.12" height="3.00" fill="#fff"/>
</svg>
</body></html>
